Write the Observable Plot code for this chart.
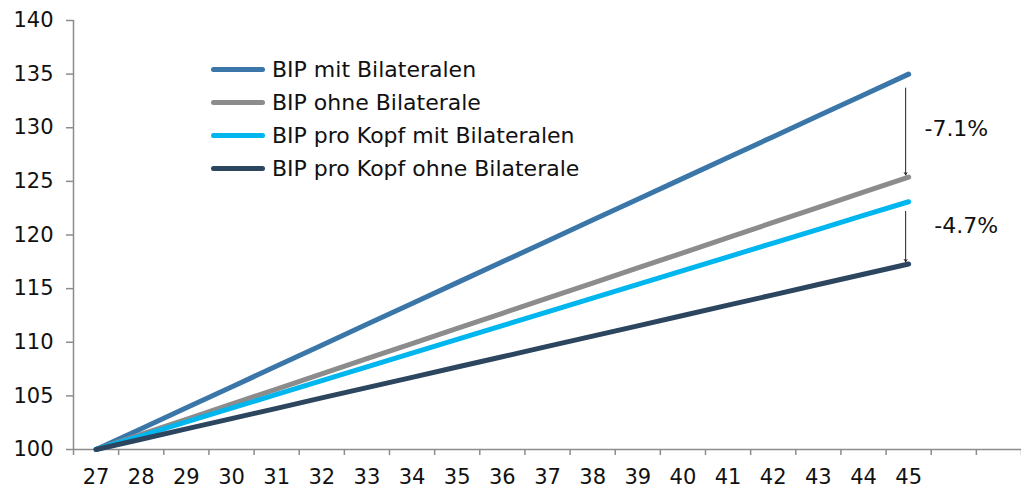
<!DOCTYPE html>
<html>
<head>
<meta charset="utf-8">
<script src="https://cdn.jsdelivr.net/npm/d3@7"></script>
<script src="https://cdn.jsdelivr.net/npm/@observablehq/plot@0.6"></script>
<style>
  html, body { margin: 0; padding: 0; background: #fff; }
  #wrap { position: relative; width: 1021px; height: 488px; font-family: "DejaVu Sans", sans-serif; }
  #legend { position: absolute; left: 211px; top: 53px; }
  .row { display: flex; align-items: center; height: 33px; font-size: 22px; color: #111; white-space: nowrap; }
  .sw { width: 54px; height: 5px; border-radius: 3px; margin-right: 7px; }
</style>
</head>
<body>
<div id="wrap"></div>
<script>
// ---- data ----
const years = [27, 28, 29, 30, 31, 32, 33, 34, 35, 36, 37, 38, 39, 40, 41, 42, 43, 44, 45];
const emptySlots = [46, 47];
const seriesNames = ["BIP mit Bilateralen", "BIP ohne Bilaterale", "BIP pro Kopf mit Bilateralen", "BIP pro Kopf ohne Bilaterale"];
const seriesColors = ["#3b76a9", "#8c8c8c", "#00b6ee", "#2d4660"];
const bipMit      = [100, 101.94, 103.89, 105.83, 107.78, 109.72, 111.67, 113.61, 115.56, 117.5, 119.44, 121.39, 123.33, 125.28, 127.22, 129.17, 131.11, 133.06, 135.0];
const bipOhne     = [100, 101.41, 102.82, 104.23, 105.64, 107.06, 108.47, 109.88, 111.29, 112.7, 114.11, 115.52, 116.93, 118.34, 119.76, 121.17, 122.58, 123.99, 125.4];
const kopfMit     = [100, 101.28, 102.57, 103.85, 105.13, 106.42, 107.7, 108.98, 110.27, 111.55, 112.83, 114.12, 115.4, 116.68, 117.97, 119.25, 120.53, 121.82, 123.1];
const kopfOhne    = [100, 100.96, 101.92, 102.88, 103.84, 104.81, 105.77, 106.73, 107.69, 108.65, 109.61, 110.57, 111.53, 112.49, 113.46, 114.42, 115.38, 116.34, 117.3];
const yTicks = [100, 105, 110, 115, 120, 125, 130, 135, 140];
const annotLabels = ["-7.1%", "-4.7%"];
const annotFrom = [133.7, 122.2];
const annotTo = [125.6, 117.5];
const annotTextY = [129.9, 120.8];
const annotTextX = [45.35, 45.57];

// ---- build ----
const allSlots = years.concat(emptySlots);
const boundaries = allSlots.map(d => d - 0.5).concat([allSlots[allSlots.length - 1] + 0.5]);
const seriesValues = [bipMit, bipOhne, kopfMit, kopfOhne];
const rows = [];
seriesNames.forEach((name, i) => years.forEach((yr, j) => rows.push({series: name, year: yr, value: seriesValues[i][j]})));
const annots = annotLabels.map((t, i) => ({label: t, from: annotFrom[i], to: annotTo[i], ty: annotTextY[i], tx: annotTextX[i], x: years[years.length - 1]}));

const xDomain = [boundaries[0], boundaries[boundaries.length - 1]];

const chart = Plot.plot({
  width: 1021,
  height: 488,
  marginLeft: 73,
  marginRight: 0,
  marginTop: 20,
  marginBottom: 39,
  style: {fontFamily: "DejaVu Sans, sans-serif", fontSize: "21px", color: "#111", background: "#fff"},
  x: {domain: xDomain, range: [73, 1021]},
  y: {domain: [100, 140]},
  color: {domain: seriesNames, range: seriesColors},
  marks: [
    Plot.axisY({ticks: yTicks, tickSize: 7, tickPadding: 13, stroke: "#8c8c8c", strokeWidth: 1.5, tickFormat: d => d, fill: "#111"}),
    Plot.axisX({ticks: boundaries, tickSize: 6, tickFormat: () => "", stroke: "#8c8c8c", strokeWidth: 1.5}),
    Plot.axisX({ticks: years, tickSize: 0, tickPadding: 20, tickFormat: d => d, fill: "#111"}),
    Plot.ruleX([xDomain[0]], {y1: 100, y2: 140, stroke: "#8c8c8c", strokeWidth: 1.5}),
    Plot.ruleY([100], {x1: xDomain[0], x2: xDomain[1], stroke: "#8c8c8c", strokeWidth: 1.5}),
    Plot.line(rows, {x: "year", y: "value", z: "series", stroke: "series", strokeWidth: 5, strokeLinecap: "round", strokeLinejoin: "round"}),
    Plot.arrow(annots, {x1: "x", x2: "x", y1: "from", y2: "to", dx: -3, stroke: "#222", strokeWidth: 1, headLength: 4, bend: 0}),
    Plot.text(annots, {x: "tx", y: "ty", text: "label", textAnchor: "start", fontSize: 22, fill: "#111"})
  ]
});

const wrap = document.getElementById("wrap");
wrap.appendChild(chart);
const legend = document.createElement("div");
legend.id = "legend";
seriesNames.forEach((name, i) => {
  const row = document.createElement("div");
  row.className = "row";
  const sw = document.createElement("div");
  sw.className = "sw";
  sw.style.background = seriesColors[i];
  const lab = document.createElement("span");
  lab.textContent = name;
  row.appendChild(sw);
  row.appendChild(lab);
  legend.appendChild(row);
});
wrap.appendChild(legend);
</script>
</body>
</html>
